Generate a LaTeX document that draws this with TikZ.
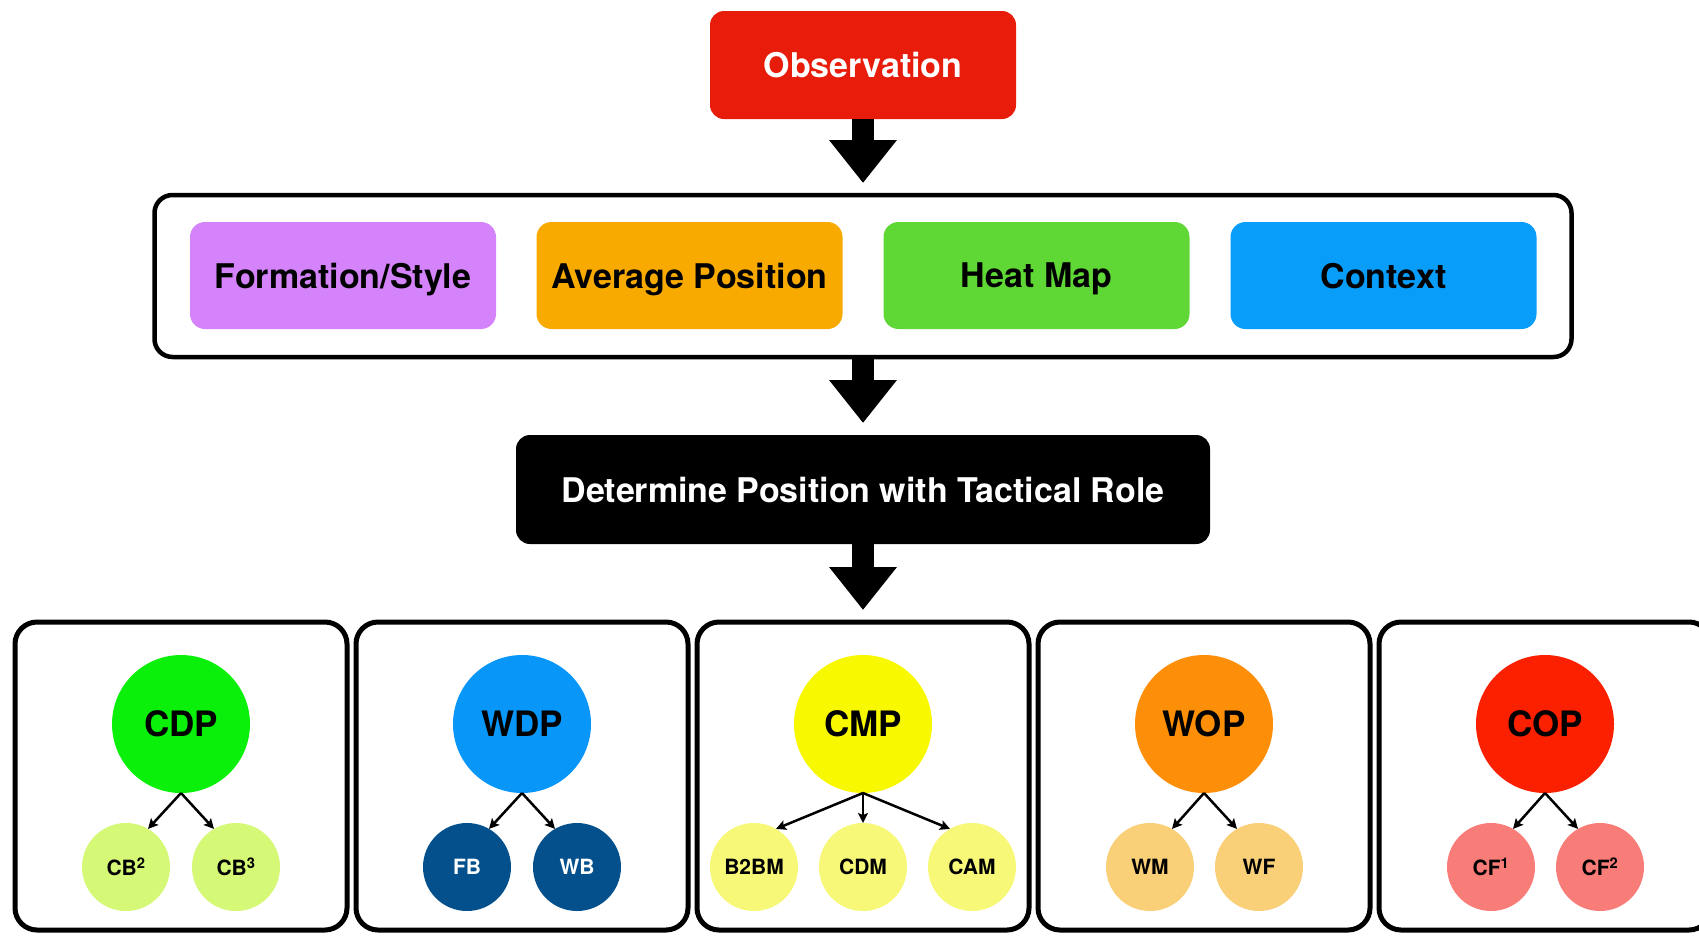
\documentclass[tikz,border=0pt]{standalone}
\usepackage{fontspec}
\setmainfont{TeX Gyre Heros}
\usetikzlibrary{arrows.meta}
\definecolor{obsred}{RGB}{232,28,10}
\definecolor{formpurple}{RGB}{213,131,250}
\definecolor{avgorange}{RGB}{249,170,0}
\definecolor{heatgreen}{RGB}{95,215,53}
\definecolor{ctxblue}{RGB}{7,157,249}
\definecolor{cdpgreen}{RGB}{10,240,10}
\definecolor{cblime}{RGB}{213,248,118}
\definecolor{wdpblue}{RGB}{8,150,248}
\definecolor{wbnavy}{RGB}{3,80,141}
\definecolor{cmpyellow}{RGB}{248,248,0}
\definecolor{cmlight}{RGB}{247,247,120}
\definecolor{woporange}{RGB}{253,143,8}
\definecolor{wolight}{RGB}{249,207,120}
\definecolor{copred}{RGB}{250,32,0}
\definecolor{cflight}{RGB}{248,124,120}
\begin{document}
\begin{tikzpicture}[x=1pt, y=-1pt,
  every node/.style={inner sep=0pt, outer sep=0pt},
  stage/.style={rounded corners=14pt, minimum width=306pt, minimum height=108pt,
    font=\fontsize{34}{40}\selectfont\bfseries},
  cue/.style={rounded corners=15pt, minimum width=306pt, minimum height=107pt,
    text depth=0pt, font=\fontsize{34}{40}\selectfont\bfseries},
  cuebox/.style={draw, line width=4.5pt, rounded corners=18pt,
    minimum width=1417pt, minimum height=162pt},
  panel/.style={draw, line width=5pt, rounded corners=22pt,
    minimum width=332pt, minimum height=308pt},
  role/.style={circle, minimum size=138pt, font=\fontsize{35}{40}\selectfont\bfseries},
  sub/.style={circle, minimum size=88pt, font=\fontsize{21}{24}\selectfont\bfseries},
  bigarrow/.style={line width=22pt, -{Triangle[length=43pt, width=65pt]}, shorten >=12pt},
  fork/.style={line width=2.5pt, -{Stealth[length=10pt, width=10pt, inset=2pt]}},
]
  \useasboundingbox (0,0) rectangle (1699,935);
  \clip (0,0) rectangle (1699,935);
  % Pipeline
  \node[stage, fill=obsred, text=white] (obs) at (863,65) {Observation};
  \node[cuebox] (cues) at (863,276) {};
  \node[cue, fill=formpurple] (form) at (343,275.5) {Formation/Style};
  \node[cue, fill=avgorange] (avg) at (689.5,275.5) {Average Position};
  \node[cue, fill=heatgreen] (heat) at (1036.5,275.5) {Heat Map};
  \node[cue, fill=ctxblue] (ctx) at (1383.5,275.5) {Context};
  \node[stage, fill=black, text=white, minimum width=694pt, minimum height=109pt] (det) at (863,489.5)
    {Determine Position with Tactical Role};
  % Panels
  \node[panel] (pcdp) at (181,776) {};
  \node[panel] (pwdp) at (522,776) {};
  \node[panel] (pcmp) at (863,776) {};
  \node[panel] (pwop) at (1204,776) {};
  \node[panel] (pcop) at (1545,776) {};
  % Block arrows
  \draw[bigarrow] (obs.south) -- (cues.north);
  \draw[bigarrow] (cues.south) -- (det.north);
  \draw[bigarrow] (det.south) -- (pcmp.north);
  % Roles and their sub-roles
  \node[role, fill=cdpgreen] (cdp) at (181,724) {CDP};
  \node[sub, fill=cblime] (cbtwo) at (126,867) {CB\textsuperscript{2}};
  \node[sub, fill=cblime] (cbthree) at (236,867) {CB\textsuperscript{3}};
  \node[role, fill=wdpblue] (wdp) at (522,724) {WDP};
  \node[sub, fill=wbnavy, text=white] (fb) at (467,867) {FB};
  \node[sub, fill=wbnavy, text=white] (wb) at (577,867) {WB};
  \node[role, fill=cmpyellow] (cmp) at (863,724) {CMP};
  \node[sub, fill=cmlight] (btbm) at (754,867) {B2BM};
  \node[sub, fill=cmlight] (cdm) at (863,867) {CDM};
  \node[sub, fill=cmlight] (cam) at (972,867) {CAM};
  \node[role, fill=woporange] (wop) at (1204,724) {WOP};
  \node[sub, fill=wolight] (wm) at (1150,867) {WM};
  \node[sub, fill=wolight] (wf) at (1259,867) {WF};
  \node[role, fill=copred] (cop) at (1545,724) {COP};
  \node[sub, fill=cflight] (cfone) at (1491,867) {CF\textsuperscript{1}};
  \node[sub, fill=cflight] (cftwo) at (1600,867) {CF\textsuperscript{2}};
  % Small arrows
  \draw[fork] (cdp.south) -- (cbtwo.60);
  \draw[fork] (cdp.south) -- (cbthree.120);
  \draw[fork] (wdp.south) -- (fb.60);
  \draw[fork] (wdp.south) -- (wb.120);
  \draw[fork] (cmp.south) -- (btbm.60);
  \draw[fork] (cmp.south) -- (cdm.north);
  \draw[fork] (cmp.south) -- (cam.120);
  \draw[fork] (wop.south) -- (wm.60);
  \draw[fork] (wop.south) -- (wf.120);
  \draw[fork] (cop.south) -- (cfone.60);
  \draw[fork] (cop.south) -- (cftwo.120);
\end{tikzpicture}
\end{document}
